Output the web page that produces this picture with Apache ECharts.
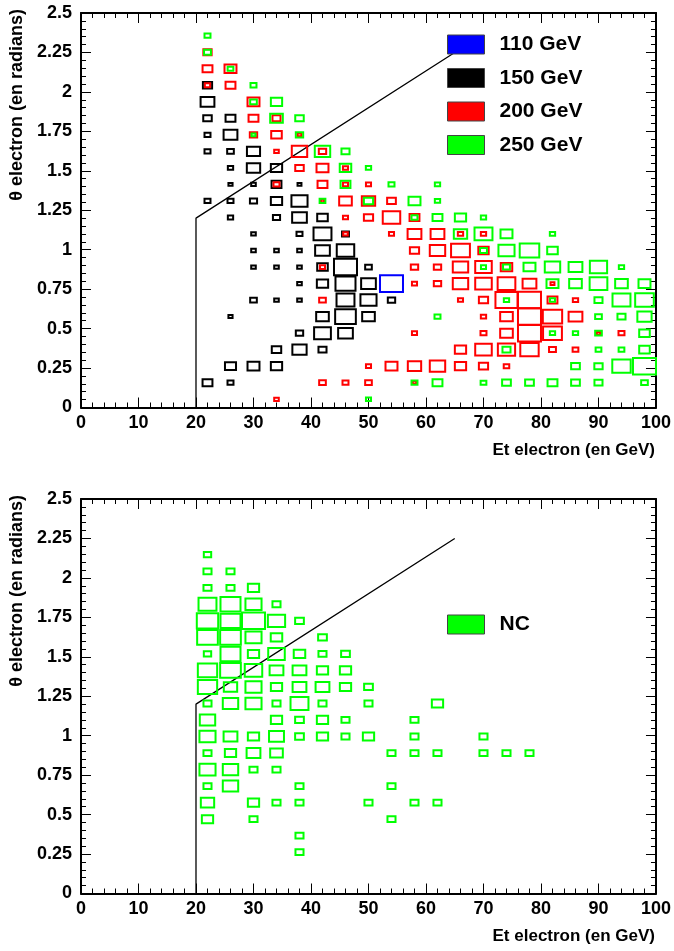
<!DOCTYPE html>
<html>
<head>
<meta charset="utf-8">
<script src="https://cdn.jsdelivr.net/npm/echarts@6/dist/echarts.min.js"></script>
<style>
html,body{margin:0;padding:0;background:#fff;}
#chart{width:674px;height:951px;}
</style>
</head>
<body>
<div id="chart"></div>
<script>
// ---- data: [Et (GeV), theta (rad), relative box size] ----
const BIN_ET = 4;          // GeV
const BIN_THETA = 0.1047;  // rad
const xTicks = [0,10,20,30,40,50,60,70,80,90,100];
const yTicks = [0,0.25,0.5,0.75,1,1.25,1.5,1.75,2,2.25,2.5];
const legendTop = ['110 GeV','150 GeV','200 GeV','250 GeV'];
const legendBottom = ['NC'];
const cutLine = [[20,0],[20,1.2],[65,2.25]];

const mh110 = [[54,0.785,1.00]];

const mh150 = [
 [22,2.042,0.40],[22,1.937,0.60],[22,1.833,0.37],[22,1.728,0.26],[22,1.623,0.26],[22,1.309,0.26],[22,0.157,0.43],
 [26,1.833,0.43],[26,1.728,0.60],[26,1.623,0.29],[26,1.518,0.23],[26,1.414,0.18],[26,1.309,0.26],[26,1.204,0.23],[26,0.576,0.18],[26,0.262,0.48],[26,0.157,0.26],
 [30,1.623,0.57],[30,1.518,0.58],[30,1.414,0.20],[30,1.309,0.31],[30,1.100,0.20],[30,0.995,0.20],[30,0.890,0.20],[30,0.681,0.29],[30,0.262,0.52],
 [34,1.518,0.49],[34,1.414,0.43],[34,1.309,0.49],[34,1.204,0.31],[34,0.995,0.20],[34,0.890,0.20],[34,0.681,0.20],[34,0.367,0.41],[34,0.262,0.49],
 [38,1.414,0.17],[38,1.309,0.70],[38,1.204,0.64],[38,1.100,0.26],[38,0.995,0.20],[38,0.890,0.20],[38,0.785,0.20],[38,0.681,0.20],[38,0.471,0.32],[38,0.367,0.62],
 [42,1.204,0.46],[42,1.100,0.78],[42,0.995,0.64],[42,0.890,0.46],[42,0.785,0.49],[42,0.576,0.55],[42,0.471,0.73],[42,0.367,0.35],
 [46,1.100,0.30],[46,0.995,0.76],[46,0.890,1.00],[46,0.785,0.87],[46,0.681,0.78],[46,0.576,0.90],[46,0.471,0.64],
 [50,0.890,0.29],[50,0.785,0.64],[50,0.681,0.70],[50,0.576,0.55],
 [54,0.681,0.32]
];

const mh200 = [
 [22,2.251,0.36],[22,2.147,0.43],[22,2.042,0.23],
 [26,2.147,0.52],[26,2.042,0.43],
 [30,1.937,0.52],[30,1.833,0.43],[30,1.728,0.32],
 [34,1.833,0.35],[34,1.728,0.46],[34,1.623,0.20],[34,1.414,0.26],[34,0.052,0.20],
 [38,1.728,0.17],[38,1.623,0.67],[38,1.518,0.37],
 [42,1.623,0.32],[42,1.518,0.52],[42,1.414,0.43],[42,1.309,0.15],[42,0.890,0.22],[42,0.681,0.29],[42,0.157,0.29],
 [46,1.518,0.22],[46,1.414,0.22],[46,1.309,0.55],[46,1.204,0.22],[46,1.100,0.20],[46,0.157,0.26],
 [50,1.414,0.22],[50,1.309,0.58],[50,1.204,0.40],[50,0.262,0.22],[50,0.157,0.29],
 [54,1.309,0.38],[54,1.204,0.76],[54,1.100,0.22],[54,0.262,0.52],
 [58,1.204,0.43],[58,1.100,0.60],[58,0.995,0.40],[58,0.890,0.32],[58,0.785,0.22],[58,0.471,0.22],[58,0.262,0.58],[58,0.157,0.15],
 [62,1.100,0.60],[62,0.995,0.67],[62,0.890,0.32],[62,0.785,0.32],[62,0.262,0.67],
 [66,1.100,0.23],[66,0.995,0.82],[66,0.890,0.67],[66,0.785,0.67],[66,0.681,0.22],[66,0.367,0.49],[66,0.262,0.49],
 [70,1.100,0.23],[70,0.995,0.45],[70,0.890,0.72],[70,0.785,0.72],[70,0.681,0.40],[70,0.576,0.23],[70,0.471,0.26],[70,0.367,0.72],[70,0.262,0.40],
 [74,0.890,0.50],[74,0.785,0.77],[74,0.681,0.96],[74,0.576,0.55],[74,0.471,0.55],[74,0.367,0.75],[74,0.262,0.24],
 [78,0.785,0.60],[78,0.681,1.00],[78,0.576,1.00],[78,0.471,1.00],[78,0.367,0.80],
 [82,0.785,0.17],[82,0.681,0.43],[82,0.576,0.84],[82,0.471,0.82],[82,0.367,0.30],
 [86,0.681,0.23],[86,0.576,0.60],[86,0.367,0.25],
 [90,0.471,0.15],
 [94,0.471,0.26]
];

const mh250 = [
 [22,2.356,0.26],[22,2.251,0.30],
 [26,2.147,0.25],
 [30,2.042,0.26],[30,1.937,0.29],[30,1.728,0.17],
 [34,1.937,0.49],[34,1.833,0.55],
 [38,1.833,0.37],[38,1.728,0.32],
 [42,1.623,0.67],[42,1.309,0.25],
 [46,1.623,0.35],[46,1.518,0.50],[46,1.414,0.43],
 [50,1.518,0.23],[50,1.309,0.40],[50,0.052,0.22],
 [54,1.414,0.26],
 [58,1.309,0.52],[58,1.204,0.26],[58,0.157,0.26],
 [62,1.414,0.23],[62,1.309,0.23],[62,1.204,0.43],[62,0.576,0.26],[62,0.157,0.43],
 [66,1.204,0.49],[66,1.100,0.58],
 [70,1.204,0.23],[70,1.100,0.78],[70,0.995,0.30],[70,0.890,0.22],[70,0.157,0.25],
 [74,1.100,0.52],[74,0.995,0.70],[74,0.890,0.30],[74,0.681,0.23],[74,0.367,0.35],[74,0.157,0.38],
 [78,0.995,0.85],[78,0.890,0.52],[78,0.157,0.38],
 [82,1.100,0.23],[82,0.995,0.46],[82,0.890,0.67],[82,0.785,0.52],[82,0.681,0.22],[82,0.471,0.23],[82,0.157,0.43],
 [86,0.890,0.60],[86,0.785,0.55],[86,0.471,0.23],[86,0.262,0.38],[86,0.157,0.38],
 [90,0.890,0.75],[90,0.785,0.77],[90,0.681,0.35],[90,0.576,0.29],[90,0.471,0.29],[90,0.367,0.25],[90,0.262,0.36],[90,0.157,0.35],
 [94,0.890,0.23],[94,0.785,0.55],[94,0.681,0.78],[94,0.576,0.35],[94,0.367,0.25],[94,0.262,0.80],
 [98,0.785,0.52],[98,0.681,0.81],[98,0.576,0.62],[98,0.471,0.46],[98,0.367,0.46],[98,0.262,1.00],[98,0.157,0.29]
];

const nc = [
 [22,2.147,0.32],[22,2.042,0.35],[22,1.937,0.35],[22,1.833,0.78],[22,1.728,0.93],[22,1.623,0.90],[22,1.518,0.32],[22,1.414,0.84],[22,1.309,0.84],[22,1.204,0.35],[22,1.100,0.67],[22,0.995,0.70],[22,0.890,0.35],[22,0.785,0.70],[22,0.681,0.35],[22,0.576,0.58],[22,0.471,0.49],
 [26,2.042,0.35],[26,1.937,0.35],[26,1.833,0.87],[26,1.728,0.87],[26,1.623,0.90],[26,1.518,0.87],[26,1.414,0.90],[26,1.309,0.58],[26,1.204,0.67],[26,0.995,0.60],[26,0.890,0.49],[26,0.785,0.67],[26,0.681,0.67],
 [30,1.937,0.49],[30,1.833,0.70],[30,1.728,1.00],[30,1.623,0.70],[30,1.518,0.49],[30,1.414,0.76],[30,1.309,0.70],[30,1.204,0.70],[30,0.995,0.49],[30,0.890,0.60],[30,0.785,0.35],[30,0.576,0.49],[30,0.471,0.35],
 [34,1.833,0.35],[34,1.728,0.75],[34,1.623,0.50],[34,1.518,0.72],[34,1.414,0.60],[34,1.309,0.49],[34,1.204,0.35],[34,1.100,0.49],[34,0.995,0.65],[34,0.890,0.55],[34,0.785,0.35],[34,0.576,0.35],
 [38,1.728,0.38],[38,1.518,0.50],[38,1.414,0.60],[38,1.309,0.60],[38,1.204,0.78],[38,1.100,0.38],[38,0.995,0.38],[38,0.681,0.35],[38,0.576,0.35],[38,0.367,0.35],[38,0.262,0.35],
 [42,1.623,0.38],[42,1.518,0.35],[42,1.414,0.49],[42,1.309,0.60],[42,1.204,0.35],[42,1.100,0.49],[42,0.995,0.49],
 [46,1.518,0.38],[46,1.414,0.49],[46,1.309,0.49],[46,1.100,0.35],[46,0.995,0.35],
 [50,1.309,0.38],[50,1.204,0.35],[50,0.995,0.49],[50,0.576,0.35],
 [54,0.890,0.35],[54,0.681,0.35],[54,0.471,0.35],
 [58,1.100,0.35],[58,0.995,0.35],[58,0.890,0.35],[58,0.576,0.35],
 [62,1.204,0.49],[62,0.890,0.35],[62,0.576,0.35],
 [70,0.995,0.35],[70,0.890,0.35],
 [74,0.890,0.35],
 [78,0.890,0.35]
];

// ---- chart ----
const FONT = "'Liberation Sans', Arial, Helvetica, sans-serif";
const chart = echarts.init(document.getElementById('chart'), null, {renderer:'canvas'});

function boxSeries(name, data, color, axisIdx) {
  return {
    type: 'custom',
    name: name,
    xAxisIndex: axisIdx, yAxisIndex: axisIdx,
    data: data,
    itemStyle: {color: color},
    z: 3,
    renderItem: function (params, api) {
      const c = api.coord([api.value(0), api.value(1)]);
      const s = api.size([BIN_ET, BIN_THETA]);
      const f = api.value(2);
      const w = s[0] * f, h = s[1] * f;
      return {
        type: 'rect',
        shape: {x: c[0] - w / 2, y: c[1] - h / 2, width: w, height: h},
        style: {fill: 'none', stroke: color, lineWidth: 2}
      };
    }
  };
}

function lineSeries(axisIdx) {
  return {
    type: 'line', xAxisIndex: axisIdx, yAxisIndex: axisIdx,
    data: cutLine, symbol: 'none', silent: true, z: 2,
    lineStyle: {color: '#000', width: 1.3}
  };
}

const tickCommon = {
  axisLine: {show: true, onZero: false, lineStyle: {color: '#000', width: 2}},
  axisTick: {show: true, inside: true, length: 10, lineStyle: {color: '#000', width: 1}},
  minorTick: {show: true, splitNumber: 5, length: 5, lineStyle: {color: '#000', width: 1}},
  splitLine: {show: false}
};

function xAxis(gridIndex, pos, labels) {
  return Object.assign({
    type: 'value', gridIndex: gridIndex, position: pos,
    min: xTicks[0], max: xTicks[xTicks.length - 1], interval: xTicks[1] - xTicks[0],
    axisLabel: {show: labels, color: '#000', fontFamily: FONT, fontWeight: 'bold', fontSize: 18, margin: 7}
  }, tickCommon);
}
function yAxis(gridIndex, pos, labels) {
  return Object.assign({
    type: 'value', gridIndex: gridIndex, position: pos,
    min: yTicks[0], max: yTicks[yTicks.length - 1], interval: yTicks[1] - yTicks[0],
    axisLabel: {show: labels, color: '#000', fontFamily: FONT, fontWeight: 'bold', fontSize: 18, margin: 9}
  }, tickCommon);
}

const legendCommon = {
  orient: 'vertical', left: 447, icon: 'rect', padding: 0,
  itemWidth: 37, itemHeight: 19, itemGap: 12.5,
  selectedMode: false,
  itemStyle: {borderColor: '#444', borderWidth: 1},
  textStyle: {color: '#000', fontFamily: FONT, fontWeight: 'bold', fontSize: 21, padding: [0, 0, 0, 10]}
};

function titleTexts(yOff) {
  return [
    {type: 'text', right: 19, top: 442 + yOff,
     style: {text: 'Et electron (en GeV)', fill: '#000', font: "bold 17px " + FONT}},
    {type: 'text', x: 17, y: 9 + yOff, rotation: Math.PI / 2,
     style: {text: 'θ electron (en radians)', fill: '#000', font: "bold 18px " + FONT,
             align: 'right', verticalAlign: 'middle'}}
  ];
}

const option = {
  animation: false,
  backgroundColor: '#fff',
  grid: [
    {left: 81, top: 13, width: 575.5, height: 394.5},
    {left: 81, top: 499, width: 575.5, height: 394.5}
  ],
  xAxis: [xAxis(0, 'bottom', true), xAxis(0, 'top', false), xAxis(1, 'bottom', true), xAxis(1, 'top', false)],
  yAxis: [yAxis(0, 'left', true), yAxis(0, 'right', false), yAxis(1, 'left', true), yAxis(1, 'right', false)],
  legend: [
    Object.assign({top: 34, data: legendTop}, legendCommon),
    Object.assign({top: 614, data: legendBottom}, legendCommon)
  ],
  graphic: titleTexts(0).concat(titleTexts(486)),
  series: [
    lineSeries(0),
    boxSeries(legendTop[1], mh150, '#000000', 0),
    boxSeries(legendTop[2], mh200, '#ff0000', 0),
    boxSeries(legendTop[3], mh250, '#00ff00', 0),
    boxSeries(legendTop[0], mh110, '#0000ff', 0),
    lineSeries(2),
    boxSeries(legendBottom[0], nc, '#00ff00', 2)
  ]
};
chart.setOption(option);
</script>
</body>
</html>
